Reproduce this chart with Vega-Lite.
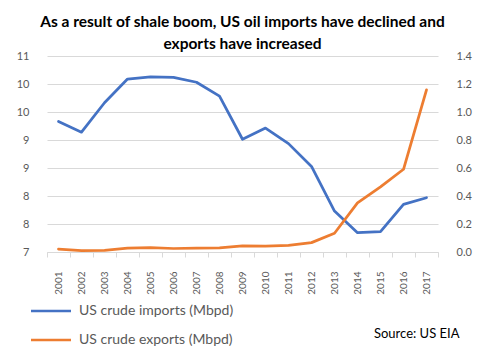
{
  "$schema": "https://vega.github.io/schema/vega-lite/v6.json",
  "autosize": "none",
  "width": 391,
  "height": 196,
  "padding": {"left": 47, "top": 56, "right": 53, "bottom": 103},
  "background": "white",
  "title": {
    "text": ["As a result of shale boom, US oil imports have declined and", "exports have increased"],
    "font": "Lato",
    "fontSize": 15.5,
    "fontWeight": "bold",
    "color": "#000000",
    "lineHeight": 22,
    "anchor": "middle",
    "offset": -2
  },
  "config": {
    "view": {"stroke": null},
    "font": "Lato",
    "axis": {
      "labelFont": "Lato",
      "labelColor": "#595959",
      "labelFontSize": 11,
      "gridColor": "#d9d9d9",
      "domainColor": "#d9d9d9",
      "tickColor": "#d9d9d9"
    }
  },
  "data": {
    "values": [
      {"year": "2001", "imports": 9.33, "exports": 0.020},
      {"year": "2002", "imports": 9.14, "exports": 0.009},
      {"year": "2003", "imports": 9.665, "exports": 0.012},
      {"year": "2004", "imports": 10.088, "exports": 0.027},
      {"year": "2005", "imports": 10.126, "exports": 0.032},
      {"year": "2006", "imports": 10.118, "exports": 0.025},
      {"year": "2007", "imports": 10.031, "exports": 0.027},
      {"year": "2008", "imports": 9.783, "exports": 0.029},
      {"year": "2009", "imports": 9.013, "exports": 0.044},
      {"year": "2010", "imports": 9.213, "exports": 0.042},
      {"year": "2011", "imports": 8.935, "exports": 0.047},
      {"year": "2012", "imports": 8.527, "exports": 0.067},
      {"year": "2013", "imports": 7.73, "exports": 0.134},
      {"year": "2014", "imports": 7.344, "exports": 0.351},
      {"year": "2015", "imports": 7.363, "exports": 0.465},
      {"year": "2016", "imports": 7.85, "exports": 0.591},
      {"year": "2017", "imports": 7.969, "exports": 1.158}
    ]
  },
  "encoding": {
    "x": {
      "field": "year",
      "type": "ordinal",
      "bandPosition": 0.5,
      "scale": {"type": "band", "paddingInner": 0, "paddingOuter": 0},
      "axis": {
        "title": "Source: US EIA",
        "titleFont": "Lato",
        "titleFontSize": 13,
        "titleFontWeight": "normal",
        "titleColor": "#000000",
        "titleAnchor": "end",
        "titleAlign": "right",
        "titleX": 412,
        "titleY": 85,
        "titleBaseline": "alphabetic",
        "labelAngle": -90,
        "labelFontSize": 10,
        "tickBand": "extent",
        "tickSize": 5,
        "labelPadding": 14,
        "grid": false
      }
    }
  },
  "layer": [
    {
      "mark": {"type": "line", "strokeWidth": 2.75, "strokeJoin": "round", "strokeCap": "round"},
      "encoding": {
        "y": {
          "field": "imports",
          "type": "quantitative",
          "scale": {"domain": [7, 10.5], "nice": false, "zero": false},
          "axis": {
            "orient": "left",
            "title": null,
            "values": [7, 7.5, 8, 8.5, 9, 9.5, 10, 10.5],
            "format": ".0f",
            "domain": false,
            "ticks": false,
            "labelPadding": 18,
            "grid": true
          }
        },
        "color": {
          "datum": "US crude imports (Mbpd)",
          "type": "nominal",
          "scale": {
            "domain": ["US crude imports (Mbpd)", "US crude exports (Mbpd)"],
            "range": ["#4472C4", "#ED7D31"]
          },
          "legend": {
            "title": null,
            "orient": "none",
            "legendX": -3,
            "legendY": 248,
            "symbolType": "M-4,0H4",
            "symbolSize": 100,
            "symbolStrokeWidth": 2.5,
            "labelFont": "Lato",
            "labelFontSize": 14,
            "labelColor": "#595959",
            "labelOffset": 21,
            "rowPadding": 15
          }
        }
      }
    },
    {
      "mark": {"type": "line", "strokeWidth": 2.75, "strokeJoin": "round", "strokeCap": "round"},
      "encoding": {
        "y": {
          "field": "exports",
          "type": "quantitative",
          "scale": {"domain": [0, 1.4], "nice": false},
          "axis": {
            "orient": "right",
            "title": null,
            "values": [0, 0.2, 0.4, 0.6, 0.8, 1.0, 1.2, 1.4],
            "format": ".1f",
            "domain": false,
            "ticks": false,
            "labelPadding": 18,
            "grid": false
          }
        },
        "color": {"datum": "US crude exports (Mbpd)", "type": "nominal"}
      }
    }
  ],
  "resolve": {"scale": {"y": "independent"}}
}
